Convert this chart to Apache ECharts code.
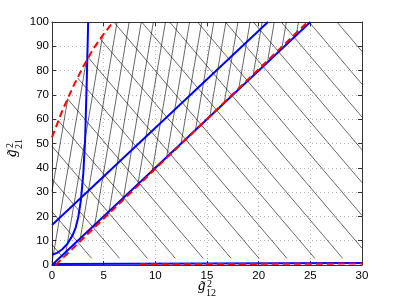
<!DOCTYPE html>
<html><head><meta charset="utf-8">
<script src="https://cdn.jsdelivr.net/npm/echarts@6/dist/echarts.min.js"></script>
<style>html,body{margin:0;padding:0;background:#fff}#c{width:399px;height:299px}</style>
</head><body><div id="c"></div>
<script>
// ---- data ----
const xTicks = [0, 5, 10, 15, 20, 25, 30];
const yTicks = [0, 10, 20, 30, 40, 50, 60, 70, 80, 90, 100];

// red dashed boundary curve (upper left)
const redCurveX = [0, 1, 2, 3, 4, 5, 5.9];
const redCurveY = [52.5, 63.5, 73, 81.5, 89, 95, 100];
// blue solid curve (near vertical)
const blueCurveX = [0, 0.5, 1, 1.5, 2, 2.3, 2.55, 2.8, 3.03, 3.2, 3.36, 3.5];
const blueCurveY = [4.2, 5, 6.5, 8.8, 12.3, 15.5, 19.9, 26.7, 37.7, 51, 75, 100];
// blue solid upper straight line
const blueUpperX = [0, 20.9];
const blueUpperY = [16.5, 100];
// blue solid lower straight line
const blueLowerX = [0, 25];
const blueLowerY = [0, 100];
// red dashed lower straight line
const redLowerX = [0.35, 24.74];
const redLowerY = [0, 100];
// curves along the bottom
const blueBottomX = [0, 30];
const blueBottomY = [0.4, 0.8];
const redBottomX = [8.5, 30];
const redBottomY = [0.3, 0.6];

// hatching "\" : slope and intercepts (value at x = 0)
const hatchDownSlope = -5;
const hatchDownIntercepts = [8.4, 21.9, 35.4, 48.9, 62.4, 75.9, 89.4, 102.9, 116.4, 129.9, 143.4, 156.9, 170.4, 183.9, 197.4, 210.9, 224.4, 237.9];
const hatchDownFloor = 2.7;
// hatching "/" : slope and x where each line meets y = 100
const hatchUpSlope = 25;
const hatchUpTopX = [-0.72, 0.45, 1.62, 2.79, 3.96, 5.13, 6.3, 7.47, 8.64, 9.81, 10.98, 12.15, 13.32, 14.49, 15.66, 16.83, 18.0, 19.17, 20.34, 21.51, 22.68, 23.85];

// ---- helpers (clip hatch lines to their regions) ----
function zip(xs, ys) { return xs.map((x, i) => [x, ys[i]]); }
function xOnCurveAtY(xs, ys, y) {
  if (y <= ys[0]) return xs[0];
  for (let i = 1; i < ys.length; i++) {
    if (y <= ys[i]) { const t = (y - ys[i-1]) / (ys[i] - ys[i-1]); return xs[i-1] + t * (xs[i] - xs[i-1]); }
  }
  return xs[xs.length - 1];
}
function leftBound(y) { return y < redCurveY[0] ? 0 : xOnCurveAtY(redCurveX, redCurveY, y); }
function rightBoundUp(y) {
  return redLowerX[0] + (y - redLowerY[0]) * (redLowerX[1] - redLowerX[0]) / (redLowerY[1] - redLowerY[0]);
}
function segment(pointAt, inside, n) {
  let first = null, last = null;
  for (let i = 0; i <= n; i++) {
    const p = pointAt(i / n);
    if (inside(p[0], p[1])) { if (!first) first = p; last = p; }
  }
  return first ? { coords: [first, last] } : null;
}
const hatchDown = hatchDownIntercepts.map(c => segment(
  t => { const x = 30 * t; return [x, c + hatchDownSlope * x]; },
  (x, y) => y <= 100 && y >= hatchDownFloor && x >= leftBound(y) && x <= 30, 6000)).filter(Boolean);
const hatchUp = hatchUpTopX.map(xt => segment(
  t => { const y = 100 * t; return [xt + (y - 100) / hatchUpSlope, y]; },
  (x, y) => x >= leftBound(y) && x <= rightBoundUp(y) && x >= 0 && x <= 30, 6000)).filter(Boolean);

const chart = echarts.init(document.getElementById('c'), null, { renderer: 'canvas' });
const gridColor = '#b4b4b4';
const axisColor = '#333';
const labelFont = { fontFamily: 'Liberation Sans', fontSize: 11.5, color: '#000' };
function lineSeries(xs, ys, color, dashed, z) {
  return { type: 'line', data: zip(xs, ys), symbol: 'none', smooth: false, z: z, silent: true,
    lineStyle: { color: color, width: 2, type: dashed ? [7, 4] : 'solid' }, clip: true };
}
const option = {
  animation: false,
  backgroundColor: '#fff',
  grid: { left: 52, right: 37, top: 22, bottom: 34, show: false },
  xAxis: [
    { type: 'value', min: 0, max: 30, interval: 5, position: 'bottom',
      axisLine: { show: true, onZero: false, lineStyle: { color: axisColor, width: 1 } },
      axisTick: { show: true, inside: true, length: 4, lineStyle: { color: axisColor } },
      axisLabel: Object.assign({ margin: 5, formatter: v => xTicks.includes(v) ? String(v) : '' }, labelFont),
      splitLine: { show: true, lineStyle: { color: gridColor, type: [1, 3], width: 1 } } },
    { type: 'value', min: 0, max: 30, interval: 5, position: 'top',
      axisLine: { show: true, onZero: false, lineStyle: { color: axisColor, width: 1 } },
      axisTick: { show: true, inside: true, length: 4, lineStyle: { color: axisColor } },
      axisLabel: { show: false }, splitLine: { show: false } }
  ],
  yAxis: [
    { type: 'value', min: 0, max: 100, interval: 10, position: 'left',
      axisLine: { show: true, onZero: false, lineStyle: { color: axisColor, width: 1 } },
      axisTick: { show: true, inside: true, length: 4, lineStyle: { color: axisColor } },
      axisLabel: Object.assign({ margin: 3, formatter: v => yTicks.includes(v) ? String(v) : '' }, labelFont),
      splitLine: { show: true, lineStyle: { color: gridColor, type: [1, 3], width: 1 } } },
    { type: 'value', min: 0, max: 100, interval: 10, position: 'right',
      axisLine: { show: true, onZero: false, lineStyle: { color: axisColor, width: 1 } },
      axisTick: { show: true, inside: true, length: 4, lineStyle: { color: axisColor } },
      axisLabel: { show: false }, splitLine: { show: false } }
  ],
  series: [
    { type: 'lines', coordinateSystem: 'cartesian2d', polyline: false, silent: true, z: 1,
      lineStyle: { color: '#000', width: 0.7, opacity: 0.85 }, data: hatchDown },
    { type: 'lines', coordinateSystem: 'cartesian2d', polyline: false, silent: true, z: 1,
      lineStyle: { color: '#000', width: 0.7, opacity: 0.85 }, data: hatchUp },
    lineSeries(blueCurveX, blueCurveY, '#0000ff', false, 3),
    lineSeries(blueUpperX, blueUpperY, '#0000ff', false, 3),
    lineSeries(blueLowerX, blueLowerY, '#0000ff', false, 3),
    lineSeries(blueBottomX, blueBottomY, '#0000ff', false, 3),
    lineSeries(redCurveX, redCurveY, '#ff0000', true, 4),
    lineSeries(redLowerX, redLowerY, '#ff0000', true, 4),
    lineSeries(redBottomX, redBottomY, '#ff0000', true, 4)
  ],
  graphic: [
    { type: 'group', x: 198, y: 279, silent: true, children: [
      { type: 'text', x: 0, y: 0, style: { text: 'g̃', font: 'italic 15px "Liberation Serif"', fill: '#000' } },
      { type: 'text', x: 9, y: 0, style: { text: '2', font: '10px "Liberation Serif"', fill: '#000' } },
      { type: 'text', x: 8, y: 9, style: { text: '12', font: '10px "Liberation Serif"', fill: '#000' } }
    ] },
    { type: 'group', x: 5, y: 157, rotation: Math.PI / 2, silent: true, children: [
      { type: 'text', x: 0, y: 0, style: { text: 'g̃', font: 'italic 15px "Liberation Serif"', fill: '#000' } },
      { type: 'text', x: 9, y: 0, style: { text: '2', font: '10px "Liberation Serif"', fill: '#000' } },
      { type: 'text', x: 8, y: 9, style: { text: '21', font: '10px "Liberation Serif"', fill: '#000' } }
    ] }
  ]
};
chart.setOption(option);
</script>
</body></html>
